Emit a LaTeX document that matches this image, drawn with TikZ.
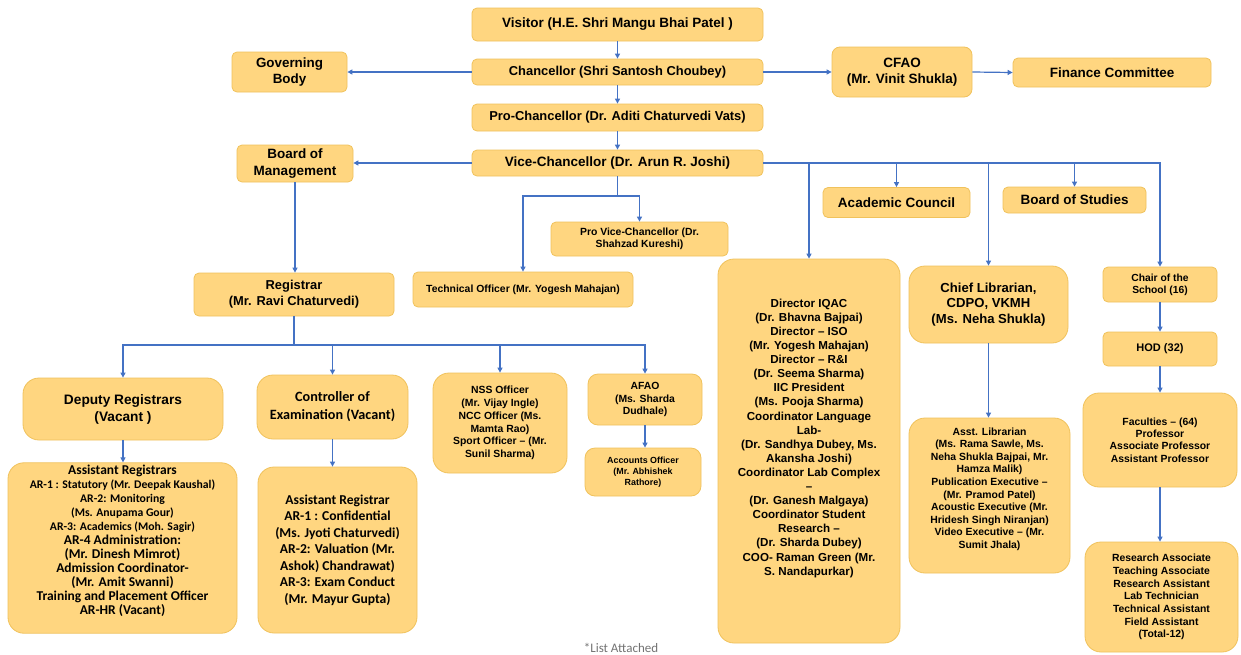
\documentclass[tikz,border=0pt]{standalone}
\usepackage{fontspec}
\setmainfont{Liberation Sans}
\newfontfamily\calfont{Carlito}
\usetikzlibrary{arrows.meta}

\definecolor{boxfill}{RGB}{255,214,128}
\definecolor{boxline}{RGB}{240,194,92}
\definecolor{linkblue}{RGB}{68,114,196}

\tikzset{
  unit/.style={draw=boxline, line width=0.8pt, fill=boxfill, rounded corners=5pt, align=center, inner sep=2pt},
  bigunit/.style={unit, rounded corners=16pt},
  fs/.style 2 args={font=\fontsize{#1}{#2}\selectfont\bfseries},
  cfs/.style 2 args={font=\calfont\fontsize{#1}{#2}\selectfont\bfseries},
  wire/.style={draw=linkblue, line width=1.2pt},
  link/.style={wire, ->},
}

\begin{document}
\begin{tikzpicture}[x=1pt, y=-1pt, >={Triangle[length=5pt,width=5pt]}]
  % Page frame (pixel grid of the chart).
  \path[fill=white, use as bounding box] (0,0) rectangle (1241,654);

  % Top of the chain.
  \node[unit, fs={13.5}{16}, minimum width=291, minimum height=33] (vis) at (617.5,24.5) {Visitor (H.E. Shri Mangu Bhai Patel )};
  \node[unit, fs={12.9}{15}, minimum width=291, minimum height=26] (chan) at (617.5,72) {Chancellor (Shri Santosh Choubey)};
  \node[unit, fs={12.9}{15}, minimum width=291, minimum height=27] (pro) at (617.5,117.5) {Pro-Chancellor (Dr. Aditi Chaturvedi Vats)};
  \node[unit, fs={13.5}{16}, minimum width=291, minimum height=26] (vc) at (617.5,163) {Vice-Chancellor (Dr. Arun R. Joshi)};

  % Side bodies.
  \node[unit, fs={13.4}{16.5}, minimum width=115, minimum height=40] (gov) at (289.5,72) {Governing\\Body};
  \node[bigunit, rounded corners=8pt, fs={13.5}{16.5}, minimum width=140, minimum height=50] (cfao) at (902,72) {CFAO\\(Mr. Vinit Shukla)};
  \node[unit, fs={13.5}{16}, minimum width=198, minimum height=29] (fin) at (1112,72.5) {Finance Committee};
  \node[unit, fs={13.5}{17}, minimum width=116, minimum height=37] (bom) at (295,163.5) {Board of\\Management};
  \node[unit, fs={13.5}{16}, minimum width=147, minimum height=30] (acad) at (896.5,202.5) {Academic Council};
  \node[unit, fs={13.5}{16}, minimum width=143, minimum height=26] (bos) at (1074.5,200) {Board of Studies};

  % Under the Vice-Chancellor.
  \node[unit, fs={10.4}{12.3}, minimum width=177, minimum height=34] (pvc) at (639.5,239) {Pro Vice-Chancellor (Dr.\\Shahzad Kureshi)};
  \node[unit, fs={10.4}{12.5}, minimum width=220, minimum height=35] (tech) at (523,289.5) {Technical Officer (Mr. Yogesh Mahajan)};
  \node[unit, fs={12.9}{16}, minimum width=200, minimum height=43] (reg) at (294,294.5) {Registrar\\(Mr. Ravi Chaturvedi)};
  \node[bigunit, fs={11.6}{14.1}, text depth=28pt, minimum width=182, minimum height=384] (dir) at (809,451) {Director IQAC\\(Dr. Bhavna Bajpai)\\Director – ISO\\(Mr. Yogesh Mahajan)\\Director – R\&I\\(Dr. Seema Sharma)\\IIC President\\(Ms. Pooja Sharma)\\Coordinator Language\\Lab-\\(Dr. Sandhya Dubey, Ms.\\Akansha Joshi)\\Coordinator Lab Complex\\–\\(Dr. Ganesh Malgaya)\\Coordinator Student\\Research –\\(Dr. Sharda Dubey)\\COO- Raman Green (Mr.\\S. Nandapurkar)};
  \node[bigunit, fs={13.1}{15.5}, minimum width=159, minimum height=77] (chief) at (988.5,304.5) {Chief Librarian,\\CDPO, VKMH\\(Ms. Neha Shukla)};
  \node[bigunit, fs={10.4}{12.6}, text depth=15pt, minimum width=161, minimum height=155] (asst) at (989.5,495.5) {Asst. Librarian\\(Ms. Rama Sawle, Ms.\\Neha Shukla Bajpai, Mr.\\Hamza Malik)\\Publication Executive –\\(Mr. Pramod Patel)\\Acoustic Executive (Mr.\\Hridesh  Singh Niranjan)\\Video Executive – (Mr.\\Sumit Jhala)};

  % Schools column.
  \node[unit, fs={10.3}{12}, minimum width=114, minimum height=35] (chair) at (1160,284.5) {Chair of the\\School (16)};
  \node[unit, fs={11}{13}, minimum width=114, minimum height=34] (hod) at (1160,349) {HOD (32)};
  \node[bigunit, fs={10.4}{12.3}, minimum width=154, minimum height=94] (fac) at (1160,440) {Faculties – (64)\\Professor\\Associate Professor\\Assistant Professor};
  \node[bigunit, fs={10.4}{12.7}, minimum width=153, minimum height=110] (res) at (1161.5,597) {Research Associate\\Teaching Associate\\Research Assistant\\Lab Technician\\Technical Assistant\\Field Assistant\\(Total-12)};

  % Under the Registrar.
  \node[bigunit, fs={13.7}{17}, minimum width=200, minimum height=62] (dep) at (123,409) {Deputy Registrars\\(Vacant )};
  \node[bigunit, cfs={13.5}{14}, text depth=17pt, minimum width=229, minimum height=170] (asr) at (122.5,548) {Assistant Registrars\\\fontsize{11.7}{14}\selectfont AR-1 : Statutory  (Mr. Deepak Kaushal)\\\fontsize{11.7}{14}\selectfont AR-2: Monitoring\\\fontsize{11.7}{14}\selectfont (Ms. Anupama Gour)\\\fontsize{11.7}{14}\selectfont AR-3: Academics (Moh. Sagir)\\AR-4 Administration:\\(Mr. Dinesh Mimrot)\\Admission Coordinator-\\(Mr. Amit Swanni)\\Training and Placement Officer\\AR-HR (Vacant)};
  \node[bigunit, cfs={14.2}{18}, minimum width=151, minimum height=64] (ctrl) at (332.5,407) {Controller of\\Examination (Vacant)};
  \node[bigunit, cfs={13.6}{16.5}, minimum width=159, minimum height=166] (asreg) at (337.5,550) {Assistant Registrar\\AR-1 : Confidential\\(Ms. Jyoti Chaturvedi)\\AR-2: Valuation (Mr.\\Ashok) Chandrawat)\\AR-3: Exam Conduct\\(Mr. Mayur Gupta)};
  \node[bigunit, fs={10.4}{12.7}, minimum width=134, minimum height=100] (nss) at (500,423) {NSS Officer\\(Mr. Vijay Ingle)\\NCC Officer (Ms.\\Mamta Rao)\\Sport Officer – (Mr.\\Sunil  Sharma)};
  \node[unit, rounded corners=10pt, fs={10.4}{12.5}, minimum width=114, minimum height=51] (afao) at (645,399.5) {AFAO\\(Ms. Sharda\\Dudhale)};
  \node[unit, rounded corners=10pt, fs={8.9}{11}, minimum width=116, minimum height=48] (acc) at (643,472) {Accounts Officer\\(Mr. Abhishek\\Rathore)};

  % Footnote.
  \node[anchor=south, font=\calfont\fontsize{13}{15}\selectfont, text=black!55, inner sep=0pt] (note) at (621,653) {*List Attached};

  % Main chain.
  \draw[link] (vis.south) -- (chan.north);
  \draw[link] (chan.south) -- (pro.north);
  \draw[link] (pro.south) -- (vc.north);
  \draw[link] (chan.west) -- (gov.east);
  \draw[link] (chan.east) -- (cfao.west);
  \draw[link] (cfao.east) -- (fin.west);
  \draw[link] (vc.west) -- (bom.east |- vc.west);
  \draw[link] (bom.south) -- (bom.south |- reg.north);

  % Vice-Chancellor, downwards.
  \coordinate (vbus) at (617.5,196);
  \draw[wire] (vc.south) -- (vbus);
  \draw[link] (vbus) -| (pvc.north);
  \draw[link] (vbus) -| (tech.north);

  % Vice-Chancellor, to the right.
  \draw[link] (vc.east) -| (chair.north);
  \draw[link] (vc.east -| dir.north) -- (dir.north);
  \draw[link] (vc.east -| acad.north) -- (acad.north);
  \draw[link] (vc.east -| chief.north) -- (chief.north);
  \draw[link] (vc.east -| bos.north) -- (bos.north);
  \draw[link] (chief.south) -- (chief.south |- asst.north);
  \draw[link] (chair.south) -- (hod.north);
  \draw[link] (hod.south) -- (fac.north);
  \draw[link] (fac.south) -- (fac.south |- res.north);

  % Registrar branches.
  \coordinate (rbus) at (294,345);
  \draw[wire] (reg.south) -- (rbus);
  \draw[link] (rbus) -| (dep.north);
  \draw[link] (rbus) -| (ctrl.north);
  \draw[link] (rbus) -| (nss.north);
  \draw[link] (rbus) -| (afao.north);
  \draw[link] (dep.south) -- (dep.south |- asr.north);
  \draw[link] (ctrl.south) -- (ctrl.south |- asreg.north);
  \draw[link] (afao.south) -- (afao.south |- acc.north);
\end{tikzpicture}
\end{document}
